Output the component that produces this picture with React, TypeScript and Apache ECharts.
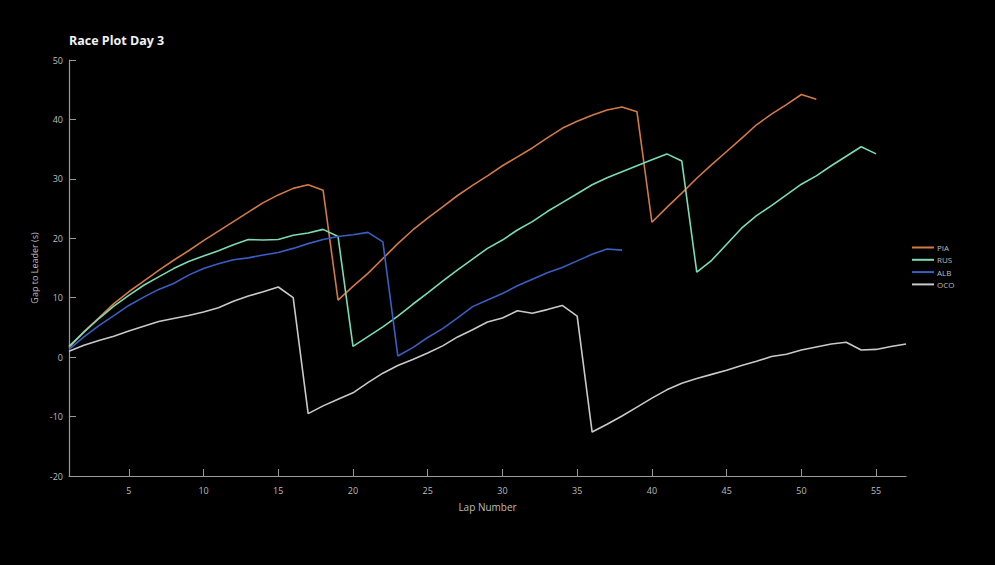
import React, { useEffect, useRef } from "react";
import * as echarts from "echarts";

const drivers = ["PIA", "RUS", "ALB", "OCO"];
const colors = ["#d27a44", "#79dcb4", "#3a5fc2", "#c9c9c9"];

const piaGaps = [1.6, 4.3, 6.6, 9.0, 11.0, 12.8, 14.6, 16.3, 17.9, 19.6, 21.2, 22.8, 24.4, 26.0, 27.3, 28.4, 29.0, 28.1, 9.6, 11.9, 14.1, 16.6, 19.1, 21.4, 23.4, 25.3, 27.2, 28.9, 30.5, 32.2, 33.7, 35.2, 36.9, 38.5, 39.7, 40.7, 41.6, 42.1, 41.3, 22.7, 25.2, 27.6, 30.1, 32.4, 34.6, 36.8, 39.1, 40.9, 42.5, 44.2, 43.4];
const rusGaps = [1.8, 4.2, 6.5, 8.6, 10.4, 12.1, 13.5, 14.9, 16.1, 17.0, 17.9, 18.9, 19.8, 19.7, 19.8, 20.5, 20.9, 21.5, 20.3, 1.8, 3.45, 5.1, 6.9, 8.9, 10.8, 12.8, 14.7, 16.5, 18.3, 19.7, 21.4, 22.8, 24.5, 26.0, 27.5, 29.0, 30.2, 31.2, 32.2, 33.2, 34.2, 33.0, 14.3, 16.3, 19.0, 21.7, 23.8, 25.5, 27.3, 29.1, 30.5, 32.2, 33.8, 35.4, 34.2];
const albGaps = [1.3, 3.4, 5.3, 7.0, 8.7, 10.1, 11.4, 12.4, 13.8, 14.9, 15.7, 16.4, 16.7, 17.2, 17.6, 18.3, 19.1, 19.8, 20.3, 20.6, 21.0, 19.4, 0.2, 1.6, 3.3, 4.8, 6.6, 8.5, 9.6, 10.7, 12.0, 13.1, 14.2, 15.1, 16.2, 17.3, 18.2, 18.0];
const ocoGaps = [1.0, 2.0, 2.8, 3.5, 4.4, 5.2, 6.0, 6.5, 7.0, 7.6, 8.3, 9.4, 10.3, 11.0, 11.8, 10.0, -9.5, -8.2, -7.1, -6.0, -4.3, -2.7, -1.4, -0.4, 0.7, 1.9, 3.4, 4.6, 5.9, 6.6, 7.8, 7.4, 8.0, 8.7, 6.9, -12.6, -11.3, -9.9, -8.4, -6.9, -5.5, -4.4, -3.6, -2.9, -2.2, -1.4, -0.7, 0.1, 0.5, 1.2, 1.7, 2.2, 2.5, 1.2, 1.3, 1.8, 2.2];

const xTicks = [5, 10, 15, 20, 25, 30, 35, 40, 45, 50, 55];

export default function App() {
  const ref = useRef<HTMLDivElement>(null);
  useEffect(() => {
    if (!ref.current) return;
    const chart = echarts.init(ref.current, null, { renderer: "svg" });
    const all = [piaGaps, rusGaps, albGaps, ocoGaps];
    const font = "Open Sans";
    chart.setOption({
      animation: false,
      backgroundColor: "#000000",
      title: {
        text: "Race Plot Day 3",
        left: 69,
        top: 34,
        padding: 0,
        textStyle: { color: "#f2f2f2", fontSize: 12.5, fontWeight: "bold", fontFamily: font },
      },
      legend: {
        orient: "vertical",
        left: 912,
        top: 243,
        padding: 0,
        icon: "rect",
        itemWidth: 22,
        itemHeight: 2,
        itemGap: 3.3,
        textStyle: { color: "#bdbdbd", fontSize: 8, fontFamily: font, lineHeight: 9, padding: [0, 0, 0, -2] },
        data: drivers,
      },
      grid: { left: 69, right: 89, top: 60, bottom: 89, containLabel: false },
      xAxis: {
        type: "value",
        min: 1,
        max: 57,
        name: "Lap Number",
        nameLocation: "middle",
        nameGap: 26,
        nameTextStyle: { color: "#bdbdbd", fontSize: 10, fontFamily: font },
        axisLine: { onZero: false, lineStyle: { color: "#9a9a9a", width: 1.2 } },
        axisTick: { inside: true, length: 7, customValues: xTicks, lineStyle: { color: "#9a9a9a" } },
        axisLabel: { customValues: xTicks, color: "#bdbdbd", fontSize: 9, fontFamily: font, margin: 10 },
        splitLine: { show: false },
      },
      yAxis: {
        type: "value",
        min: -20,
        max: 50,
        interval: 10,
        name: "Gap to Leader (s)",
        nameLocation: "middle",
        nameGap: 25,
        nameTextStyle: { color: "#bdbdbd", fontSize: 9, fontFamily: font },
        axisLine: { show: true, onZero: false, lineStyle: { color: "#9a9a9a", width: 1.2 } },
        axisTick: { show: true, inside: true, length: 7, lineStyle: { color: "#9a9a9a" } },
        axisLabel: { color: "#bdbdbd", fontSize: 9, fontFamily: font, margin: 6 },
        splitLine: { show: false },
      },
      series: drivers.map((d, i) => ({
        name: d,
        type: "line",
        data: all[i].map((v, k) => [k + 1, v]),
        showSymbol: false,
        symbol: "none",
        lineStyle: { color: colors[i], width: 1.6 },
        itemStyle: { color: colors[i] },
      })),
    });
    return () => chart.dispose();
  }, []);
  return (
    <div
      ref={ref}
      style={{ position: "fixed", left: 0, top: 0, width: 995, height: 565, background: "#000" }}
    />
  );
}
